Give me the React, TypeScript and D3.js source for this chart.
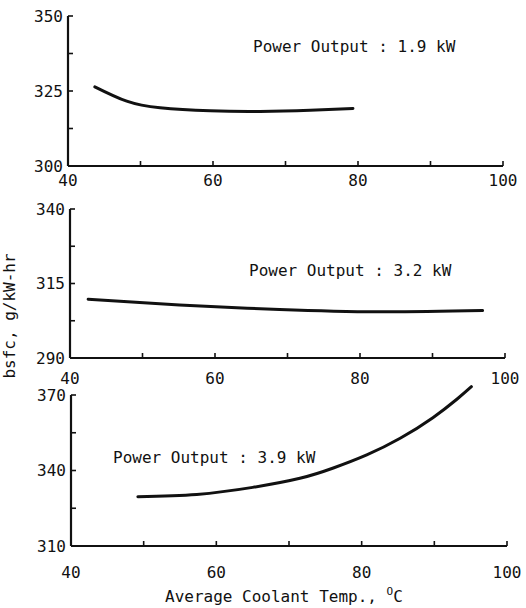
import { useEffect, useRef } from 'react';
import * as d3 from 'd3';

// coolant temperature (°C) and bsfc (g/kW-hr)
const temp19 = [43.7, 48.1, 52.7, 59.6, 66.5, 73.4, 79.3];
const bsfc19 = [326.4, 321.6, 319.4, 318.4, 318.2, 318.6, 319.2];

const temp32 = [42.5, 55.1, 68.9, 82.6, 96.9];
const bsfc32 = [309.7, 307.8, 306.3, 305.5, 305.9];

const temp39 = [49.2, 57.3, 65.0, 71.5, 76.1, 80.7, 85.3, 89.8, 93.1, 95.1];
const bsfc39 = [329.6, 330.5, 333.3, 336.9, 341.0, 346.2, 352.8, 361.0, 368.3, 373.3];

const xTicks = [40, 50, 60, 70, 80, 90, 100];
const xLabels = [40, 60, 80, 100];
const labels = ['Power Output : 1.9 kW', 'Power Output : 3.2 kW', 'Power Output : 3.9 kW'];

const MONO = '"DejaVu Sans Mono", monospace';

export default function App() {
  const svgRef = useRef<SVGSVGElement>(null);

  useEffect(() => {
    if (!svgRef.current) return;
    const svg = d3.select(svgRef.current);
    svg.selectAll('*').remove();

    const panels = [
      { xs: temp19, ys: bsfc19, yDom: [300, 350], left: 68, right: 503, top: 16, bottom: 166, xLab: 180, label: labels[0], lx: 253, ly: 52 },
      { xs: temp32, ys: bsfc32, yDom: [290, 340], left: 70, right: 505, top: 209, bottom: 358, xLab: 378, label: labels[1], lx: 249, ly: 276 },
      { xs: temp39, ys: bsfc39, yDom: [310, 370], left: 71, right: 507, top: 395, bottom: 546, xLab: 572, label: labels[2], lx: 113, ly: 463 },
    ];

    panels.forEach(p => {
      const x = d3.scaleLinear().domain([40, 100]).range([p.left, p.right]);
      const y = d3.scaleLinear().domain(p.yDom).range([p.bottom, p.top]);
      const g = svg.append('g');

      // y axis, ticks point inward
      const step = (p.yDom[1] - p.yDom[0]) / 4;
      const yTicks = d3.range(5).map(i => p.yDom[0] + i * step);
      g.append('line')
        .attr('x1', p.left).attr('x2', p.left)
        .attr('y1', p.bottom).attr('y2', p.top)
        .attr('stroke', '#111').attr('stroke-width', 2.2);
      g.selectAll('.yt').data(yTicks).join('line')
        .attr('x1', p.left).attr('x2', p.left + 5)
        .attr('y1', d => y(d)).attr('y2', d => y(d))
        .attr('stroke', '#111').attr('stroke-width', 1.6);
      g.selectAll('.yl').data(yTicks.filter((_, i) => i % 2 === 0)).join('text')
        .attr('x', p.left - 5).attr('y', d => y(d))
        .attr('text-anchor', 'end').attr('dominant-baseline', 'central')
        .attr('font-family', MONO).attr('font-size', 16).attr('fill', '#111')
        .text(d => d);

      // x axis
      g.append('line')
        .attr('x1', p.left).attr('x2', p.right)
        .attr('y1', p.bottom).attr('y2', p.bottom)
        .attr('stroke', '#111').attr('stroke-width', 2.2);
      g.selectAll('.xt').data(xTicks.slice(1)).join('line')
        .attr('x1', d => x(d)).attr('x2', d => x(d))
        .attr('y1', p.bottom).attr('y2', p.bottom - 5)
        .attr('stroke', '#111').attr('stroke-width', 1.6);
      g.selectAll('.xl').data(xLabels).join('text')
        .attr('x', d => x(d)).attr('y', p.xLab)
        .attr('text-anchor', 'middle').attr('dominant-baseline', 'central')
        .attr('font-family', MONO).attr('font-size', 16).attr('fill', '#111')
        .text(d => d);

      const line = d3.line<number>()
        .x((_, i) => x(p.xs[i]))
        .y(d => y(d))
        .curve(d3.curveNatural);
      g.append('path')
        .attr('d', line(p.ys) || '')
        .attr('fill', 'none').attr('stroke', '#111').attr('stroke-width', 3)
        .attr('stroke-linecap', 'round');

      g.append('text')
        .attr('x', p.lx).attr('y', p.ly)
        .attr('font-family', MONO).attr('font-size', 16).attr('fill', '#111')
        .text(p.label);
    });

    // axis titles
    svg.append('text')
      .attr('transform', 'translate(15,316) rotate(-90)')
      .attr('text-anchor', 'middle')
      .attr('font-family', MONO).attr('font-size', 16).attr('fill', '#111')
      .text('bsfc, g/kW-hr');

    const xt = svg.append('text')
      .attr('x', 165).attr('y', 602)
      .attr('font-family', MONO).attr('font-size', 16).attr('fill', '#111');
    xt.append('tspan').text('Average Coolant Temp., ');
    xt.append('tspan').attr('font-size', 11).attr('dy', -7).text('O');
    xt.append('tspan').attr('dy', 7).text('C');
  }, []);

  return (
    <svg
      ref={svgRef}
      width={526}
      height={608}
      style={{ position: 'absolute', left: 0, top: 0, background: '#fff' }}
    />
  );
}
